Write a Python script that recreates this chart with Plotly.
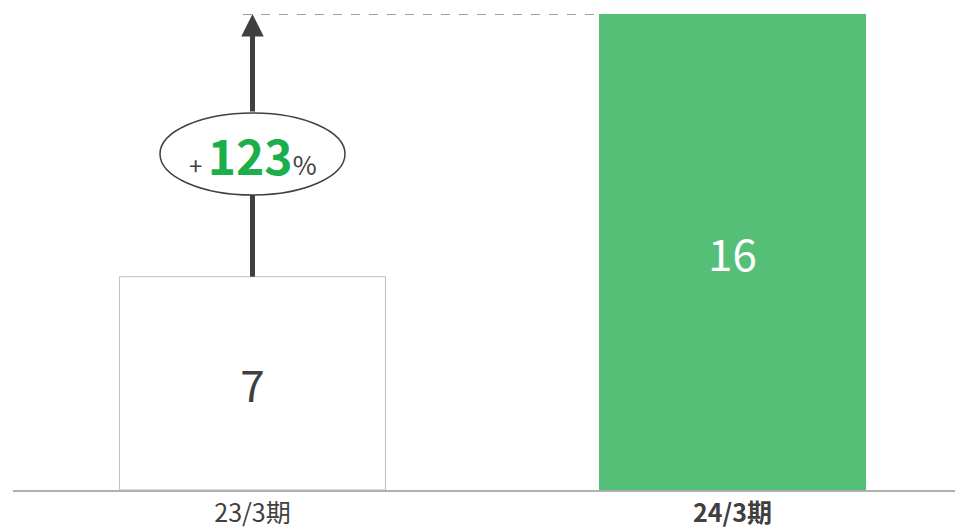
import plotly.graph_objects as go

categories = ["23/3期", "24/3期"]
tick_labels = ["23/3期", "<b>24/3期</b>"]
values = [7.17, 16.0]
growth_pct = 123

FONT = "Noto Sans CJK JP"
DARK = "#404040"
GREEN = "#55bf77"
GREEN_TXT = "#1aaf4b"

# page body has an 8px default margin; compensate so the plot lands where the reference has it
OFF = 8
W, H = 963 - OFF, 531 - OFF
ml, mr, mt, mb = 13 - OFF, 0, 14 - OFF, 41
bar_w = 0.554
px_per_unit = 480.0
cx0 = 252.5 - OFF  # first bar centre within the figure
x_range = [-(cx0 - ml) / px_per_unit, (W - cx0) / px_per_unit]
y_max = values[1]
plot_h = H - mt - mb
py = plot_h / y_max  # pixels per y unit

fig = go.Figure()
fig.add_trace(go.Bar(
    x=[0, 1], y=values, width=bar_w,
    marker=dict(color=["#ffffff", GREEN],
                line=dict(color=["#bfbfbf", GREEN], width=1)),
    text=[f"{v:.0f}" for v in values],
    texttemplate="%{text}",
    textposition="inside", insidetextanchor="middle",
    textfont=dict(family=FONT, size=44, color=[DARK, "#ffffff"]),
    hoverinfo="skip",
))

# ellipse geometry (pixels, page coordinates)
ell_cy_page = 154
ell_ry = 41
ell_rx = 92.5
base_page = 490
ell_c = (base_page - ell_cy_page) / py
ell_top = ell_c + ell_ry / py

shapes = [
    dict(type="line", xref="x", yref="y", x0=-0.02, x1=1 - bar_w / 2,
         y0=values[1], y1=values[1],
         line=dict(color="#404040", width=1, dash="dash")),
    dict(type="line", xref="x", yref="y", x0=0, x1=0, y0=values[0], y1=ell_c,
         line=dict(color=DARK, width=5)),
    dict(type="circle", xref="x", yref="y", xsizemode="pixel", ysizemode="pixel",
         xanchor=0, yanchor=ell_c, x0=-ell_rx, x1=ell_rx, y0=-ell_ry, y1=ell_ry,
         fillcolor="#ffffff", line=dict(color=DARK, width=1.5)),
]

annotations = [
    dict(x=0, y=values[1], ax=0, ay=ell_top, xref="x", yref="y", axref="x", ayref="y",
         showarrow=True, arrowhead=2, arrowsize=0.9, arrowwidth=5, arrowcolor=DARK,
         text="", standoff=0, startstandoff=0),
    dict(x=0, y=ell_c, xref="x", yref="y", showarrow=False, yanchor="middle",
         text=(f"<span style='font-size:24px;color:{DARK}'>+ </span>"
               f"<b style='font-size:48px;color:{GREEN_TXT}'>{growth_pct}</b>"
               f"<span style='font-size:26px;color:{DARK}'>%</span>"),
         font=dict(family=FONT, color=DARK)),
]

fig.update_layout(
    width=W, height=H,
    margin=dict(l=ml, r=mr, t=mt, b=mb, pad=0),
    plot_bgcolor="#ffffff", paper_bgcolor="#ffffff",
    showlegend=False,
    shapes=shapes, annotations=annotations,
    xaxis=dict(range=x_range, tickvals=[0, 1], ticktext=tick_labels,
               showgrid=False, zeroline=False, showline=True,
               linecolor="#b0b0b0", linewidth=2, ticks="",
               tickfont=dict(family=FONT, size=25, color=DARK), fixedrange=True),
    yaxis=dict(range=[0, y_max], visible=False, showgrid=False, zeroline=False,
               fixedrange=True),
    font=dict(family=FONT),
)

fig.write_html("out.html", config={"displayModeBar": False})
